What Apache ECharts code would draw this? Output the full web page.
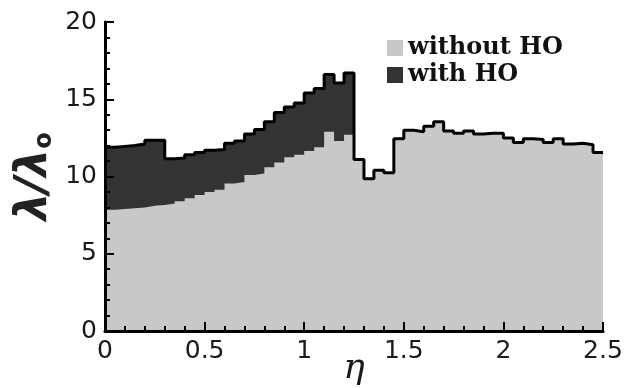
<!DOCTYPE html>
<html>
<head>
<meta charset="utf-8">
<title>lambda / lambda0 vs eta</title>
<script src="https://cdn.jsdelivr.net/npm/echarts@6/dist/echarts.min.js"></script>
<style>
  html, body { margin: 0; padding: 0; background: #fff; }
  #main { width: 630px; height: 388px; }
</style>
</head>
<body>
<div id="main"></div>
<script>
// left edges of the eta bins (width 0.05)
var etaEdges = [0, 0.05, 0.1, 0.15, 0.2, 0.25, 0.3, 0.35, 0.4, 0.45,
  0.5, 0.55, 0.6, 0.65, 0.7, 0.75, 0.8, 0.85, 0.9, 0.95,
  1.0, 1.05, 1.1, 1.15, 1.2, 1.25, 1.3, 1.35, 1.4, 1.45,
  1.5, 1.55, 1.6, 1.65, 1.7, 1.75, 1.8, 1.85, 1.9, 1.95,
  2.0, 2.05, 2.1, 2.15, 2.2, 2.25, 2.3, 2.35, 2.4, 2.45];
var etaEnd = 2.5;

// lambda / lambda0 per bin
var withoutHO = [7.85, 7.9, 7.95, 8.0, 8.1, 8.15, 8.25, 8.4, 8.6, 8.8,
  9.0, 9.15, 9.55, 9.65, 10.1, 10.2, 10.6, 10.9, 11.25, 11.4,
  11.65, 11.9, 12.9, 12.3, 12.7, 11.1, 9.85, 10.4, 10.25, 12.45,
  13.0, 12.9, 13.25, 13.55, 12.95, 12.8, 12.95, 12.75, 12.8, 12.8,
  12.5, 12.2, 12.45, 12.4, 12.2, 12.45, 12.1, 12.15, 12.05, 11.55];
var withHO = [11.9, 11.95, 12.0, 12.1, 12.35, 12.35, 11.15, 11.2, 11.4, 11.55,
  11.7, 11.75, 12.15, 12.3, 12.75, 13.05, 13.55, 14.15, 14.5, 14.75,
  15.4, 15.7, 16.6, 16.05, 16.7, 11.1, 9.85, 10.4, 10.25, 12.45,
  13.0, 12.9, 13.25, 13.55, 12.95, 12.8, 12.95, 12.75, 12.8, 12.8,
  12.5, 12.2, 12.45, 12.4, 12.2, 12.45, 12.1, 12.15, 12.05, 11.55];

var yTicks = [0, 5, 10, 15, 20];
var xTicks = [0, 0.5, 1, 1.5, 2, 2.5];

function steps(vals) {
  var d = etaEdges.map(function (x, i) { return [x, vals[i]]; });
  d.push([etaEnd, vals[vals.length - 1]]);
  return d;
}

var lightGray = '#c8c8c8';
var darkGray = '#333333';
var labelFont = { fontFamily: 'DejaVu Sans', fontSize: 25, color: '#1a1a1a' };

var myChart = echarts.init(document.getElementById('main'));
var option = {
  backgroundColor: '#ffffff',
  animation: false,
  grid: { left: 105, right: 27, top: 22, bottom: 57, outerBoundsMode: 'none' },
  legend: {
    left: 382, top: 31, orient: 'vertical',
    itemWidth: 16, itemHeight: 16, itemGap: 3,
    textStyle: { fontFamily: 'DejaVu Serif', fontWeight: 'bold', fontSize: 24, color: '#111' },
    data: [
      { name: 'without HO', icon: 'rect', itemStyle: { color: lightGray, borderWidth: 0 } },
      { name: 'with HO', icon: 'rect', itemStyle: { color: darkGray, borderWidth: 0 } }
    ]
  },
  xAxis: [{
    type: 'value', min: xTicks[0], max: xTicks[xTicks.length - 1], interval: 0.5, z: 10,
    name: 'η', nameLocation: 'middle', nameGap: 20, nameMoveOverlap: false,
    nameTextStyle: { fontFamily: 'DejaVu Serif', fontStyle: 'italic', fontSize: 36, color: '#1a1a1a' },
    axisLine: { lineStyle: { color: '#000', width: 3 } },
    axisTick: { inside: true, length: 9, lineStyle: { color: '#000', width: 2 } },
    minorTick: { show: true, splitNumber: 5, length: 5, lineStyle: { color: '#000', width: 2 } },
    splitLine: { show: false },
    axisLabel: Object.assign({ margin: 8 }, labelFont)
  }, {
    type: 'value', position: 'top', min: 0, max: 2.5, z: 10,
    axisLine: { lineStyle: { color: '#000', width: 2 } },
    axisTick: { show: false }, axisLabel: { show: false }, splitLine: { show: false }
  }],
  yAxis: [{
    type: 'value', min: yTicks[0], max: yTicks[yTicks.length - 1], interval: 5, z: 10,
    name: '{a|λ/λ}{b|o}', nameLocation: 'middle', nameGap: 48, nameRotate: 90, nameMoveOverlap: false,
    nameTextStyle: {
      color: '#222',
      rich: {
        a: { fontFamily: 'DejaVu Sans', fontWeight: 'bold', fontStyle: 'italic', fontSize: 44, color: '#222' },
        b: { fontFamily: 'DejaVu Sans', fontWeight: 'bold', fontSize: 24, color: '#222', verticalAlign: 'bottom' }
      }
    },
    axisLine: { show: true, lineStyle: { color: '#000', width: 3 } },
    axisTick: { inside: true, length: 9, lineStyle: { color: '#000', width: 2 } },
    minorTick: { show: true, splitNumber: 5, length: 5, lineStyle: { color: '#000', width: 2 } },
    splitLine: { show: false },
    axisLabel: Object.assign({ margin: 8 }, labelFont)
  }, {
    type: 'value', position: 'right', min: 0, max: 20, z: 10,
    axisLine: { show: true, lineStyle: { color: '#000', width: 2 } },
    axisTick: { show: false }, axisLabel: { show: false }, splitLine: { show: false }
  }],
  series: [{
    name: 'with HO', type: 'line', step: 'end', symbol: 'none', silent: true,
    itemStyle: { color: darkGray },
    lineStyle: { width: 0 },
    areaStyle: { color: darkGray, opacity: 1 },
    data: steps(withHO)
  }, {
    name: 'without HO', type: 'line', step: 'end', symbol: 'none', silent: true,
    itemStyle: { color: lightGray },
    lineStyle: { width: 0 },
    areaStyle: { color: lightGray, opacity: 1 },
    data: steps(withoutHO)
  }, {
    name: 'outline', type: 'line', step: 'end', symbol: 'none', silent: true,
    itemStyle: { color: '#000' },
    lineStyle: { color: '#000', width: 3 },
    data: steps(withHO)
  }]
};
myChart.setOption(option);
</script>
</body>
</html>
